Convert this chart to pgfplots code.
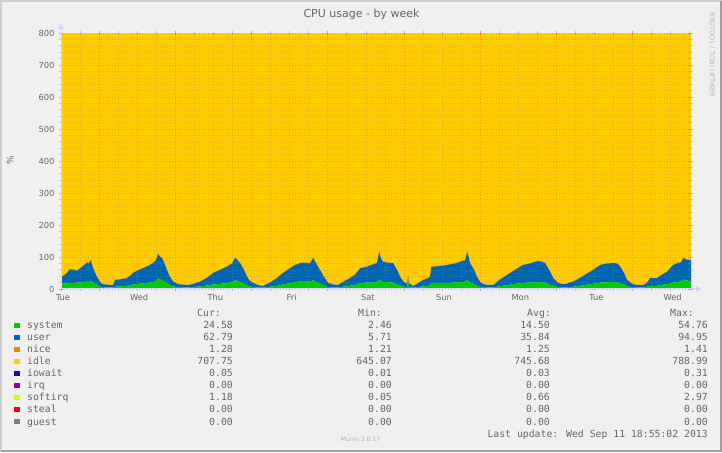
\documentclass[border=0pt]{standalone}
\usepackage{pgfplots}
\pgfplotsset{compat=1.18}
\usepackage{pgfplotstable}
\usepackage{fontspec}
\setmainfont{DejaVu Sans}
\newfontfamily\monofont{DejaVu Sans Mono}
\usetikzlibrary{arrows.meta}
\definecolor{bgc}{HTML}{F0F0F0}
\definecolor{shadea}{HTML}{CFCFCF}
\definecolor{shadeb}{HTML}{9E9E9E}
\definecolor{fontc}{HTML}{666666}
\definecolor{axisc}{HTML}{CFD6F8}
\definecolor{gridc}{HTML}{8F8F8F}
\definecolor{mgridc}{HTML}{E92222}
\definecolor{csystem}{HTML}{00CC00}
\definecolor{cuser}{HTML}{0066B3}
\definecolor{cnice}{HTML}{FF8000}
\definecolor{cidle}{HTML}{FFCC00}
\definecolor{ciowait}{HTML}{330099}
\definecolor{cirq}{HTML}{990099}
\definecolor{csoftirq}{HTML}{CCFF00}
\definecolor{csteal}{HTML}{FF0000}
\definecolor{cguest}{HTML}{808080}

% h = hours since Tuesday 12:00
\pgfplotstableread{
h sys user nice idle soft
0 18 20 1.3 759.5 0.7
0.9 17 25 1.3 755.5 0.7
1.9 18 32 1.3 747.5 0.7
2.8 19 43 1.3 735.5 0.7
4.1 19 41 1.3 737.5 0.7
5.0 20 37 1.3 740.5 0.7
6.6 21 48 1.3 728.5 0.7
8.2 23 59 1.3 715.5 0.7
8.8 22 58 1.3 717.5 0.7
9.4 25 65 1.3 707.5 0.7
10.1 20 45 1.3 732.5 0.7
11.3 13 25 1.3 759.5 0.7
12.3 8 14 1.3 775.5 0.7
12.9 6 10 1.3 781.5 0.7
14.5 5 8 1.3 784.5 0.7
16.4 5 7 1.3 785.5 0.7
17.0 7 21 1.3 769.5 0.7
18.6 8 22 1.3 767.5 0.7
20.8 10 24 1.3 763.5 0.7
22.7 14 36 1.3 747.5 0.7
24.2 16 42 1.3 739.5 0.7
25.8 18 47 1.3 732.5 0.7
27.4 19 53 1.3 725.5 0.7
29.0 22 59 1.3 716.5 0.7
29.9 24 66 1.3 707.5 0.7
30.6 34 76 1.3 687.5 0.7
31.2 30 70 1.3 697.5 0.7
31.8 27 70 1.3 700.5 0.7
32.4 24 61 1.3 712.5 0.7
33.4 18 41 1.3 738.5 0.7
34.3 12 26 1.3 759.5 0.7
35.3 8 15 1.3 774.5 0.7
36.9 6 9 1.3 782.5 0.7
39.7 5 7 1.3 785.5 0.7
41.6 6 9 1.3 782.5 0.7
43.8 8 15 1.3 774.5 0.7
46.0 11 24 1.3 762.5 0.7
47.9 14 36 1.3 747.5 0.7
50.1 16 44 1.3 737.5 0.7
52.3 18 52 1.3 727.5 0.7
53.9 22 58 1.3 717.5 0.7
54.8 28 69 1.3 700.5 0.7
55.4 26 66 1.3 705.5 0.7
56.4 22 59 1.3 716.5 0.7
57.6 16 44 1.3 737.5 0.7
58.6 11 27 1.3 759.5 0.7
59.5 8 17 1.3 772.5 0.7
60.5 6 13 1.3 778.5 0.7
62.1 5 7 1.3 785.5 0.7
63.6 4 5 1.3 788.5 0.7
65.8 7 13 1.3 777.5 0.7
68.0 10 24 1.3 763.5 0.7
69.9 14 36 1.3 747.5 0.7
72.1 18 47 1.3 732.5 0.7
73.7 21 54 1.3 722.5 0.7
75.3 24 57 1.3 716.5 0.7
76.8 25 57 1.3 715.5 0.7
78.4 23 57 1.3 717.5 0.7
79.4 28 69 1.3 700.5 0.7
80.3 22 58 1.3 717.5 0.7
81.6 17 42 1.3 738.5 0.7
82.8 11 27 1.3 759.5 0.7
84.1 6 13 1.3 778.5 0.7
85.7 5 9 1.3 783.5 0.7
87.2 5 7 1.3 785.5 0.7
88.8 7 15 1.3 775.5 0.7
91.0 10 24 1.3 763.5 0.7
92.6 13 32 1.3 752.5 0.7
94.2 18 47 1.3 732.5 0.7
96.4 20 50 1.3 727.5 0.7
98.0 20 56 1.3 721.5 0.7
99.5 21 60 1.3 716.5 0.7
100.2 30 87 1.3 680.5 0.7
100.8 25 70 1.3 702.5 0.7
101.4 22 63 1.3 712.5 0.7
103.0 21 61 1.3 715.5 0.7
104.6 20 61 1.3 716.5 0.7
105.8 15 45 1.3 737.5 0.7
106.8 11 27 1.3 759.5 0.7
107.7 8 17 1.3 772.5 0.7
108.4 6 13 1.3 778.5 0.7
109.0 6 12 1.3 779.5 0.7
109.3 38 2 1.3 757.5 0.7
109.6 6 12 1.3 779.5 0.7
110.9 4 5 1.3 788.5 0.7
112.5 6 12 1.3 779.5 0.7
114.0 8 20 1.3 769.5 0.7
115.6 10 24 1.3 763.5 0.7
116.2 11 27 1.3 759.5 0.7
116.6 18 51 1.3 728.5 0.7
119.4 19 53 1.3 725.5 0.7
121.6 19 56 1.3 722.5 0.7
124.1 20 60 1.3 717.5 0.7
125.7 21 64 1.3 712.5 0.7
127.3 23 67 1.3 707.5 0.7
127.9 30 87 1.3 680.5 0.7
128.5 24 71 1.3 702.5 0.7
128.8 21 60 1.3 716.5 0.7
130.1 15 45 1.3 737.5 0.7
131.0 11 27 1.3 759.5 0.7
132.0 7 15 1.3 775.5 0.7
132.9 6 10 1.3 781.5 0.7
134.5 5 7 1.3 785.5 0.7
136.1 5 7 1.3 785.5 0.7
138.3 9 21 1.3 767.5 0.7
140.5 12 32 1.3 753.5 0.7
143.0 16 44 1.3 737.5 0.7
145.5 19 56 1.3 722.5 0.7
147.7 20 60 1.3 717.5 0.7
149.3 21 64 1.3 712.5 0.7
150.3 22 65 1.3 710.5 0.7
151.5 21 64 1.3 712.5 0.7
152.5 20 61 1.3 716.5 0.7
153.7 15 45 1.3 737.5 0.7
155.0 10 24 1.3 763.5 0.7
156.2 7 15 1.3 775.5 0.7
157.2 6 10 1.3 781.5 0.7
158.8 5 10 1.3 782.5 0.7
161.3 7 16 1.3 774.5 0.7
163.5 10 25 1.3 762.5 0.7
166.6 15 39 1.3 743.5 0.7
168.8 18 50 1.3 729.5 0.7
169.8 20 55 1.3 722.5 0.7
172.0 21 59 1.3 717.5 0.7
173.9 22 59 1.3 716.5 0.7
175.1 21 59 1.3 717.5 0.7
176.1 18 52 1.3 727.5 0.7
177.3 14 36 1.3 747.5 0.7
178.3 8 20 1.3 769.5 0.7
179.9 6 10 1.3 781.5 0.7
181.5 5 7 1.3 785.5 0.7
183.3 5 7 1.3 785.5 0.7
184.6 7 13 1.3 777.5 0.7
185.5 10 24 1.3 763.5 0.7
187.7 10 24 1.3 763.5 0.7
189.3 13 32 1.3 752.5 0.7
190.9 15 39 1.3 743.5 0.7
192.8 20 55 1.3 722.5 0.7
194.4 22 60 1.3 715.5 0.7
195.3 24 59 1.3 714.5 0.7
195.9 30 67 1.3 700.5 0.7
196.9 27 65 1.3 705.5 0.7
198.1 25 65 1.3 707.5 0.7
198.4 25 65 1.3 707.5 0.7
}\cpudata

\newcommand{\lrow}[7]{%
  \fill[#2] (14,#1+0.5) rectangle (19.5,#1+5.5);
  \node[anchor=base west] at (27,#1) {#3};
  \node[anchor=base east] at (233,#1) {#4};
  \node[anchor=base east] at (392,#1) {#5};
  \node[anchor=base east] at (550,#1) {#6};
  \node[anchor=base east] at (708,#1) {#7};
}

\begin{document}
\begin{tikzpicture}[x=1pt,y=1pt]
\fill[bgc] (0,0) rectangle (722,452);
\path[use as bounding box] (0,0) rectangle (722,452);
\draw[shadea, line width=2pt] (1,0) -- (1,451) -- (722,451);
\draw[shadeb, line width=2pt] (1,1) -- (721,1) -- (721,451);

\node[font=\fontsize{11}{13}\selectfont, text=fontc, anchor=base, inner sep=0] at (361.5,434) {CPU usage - by week};
\node[font=\fontsize{9}{11}\selectfont, text=fontc, rotate=90, inner sep=0] at (10,292) {\%};
\node[font=\fontsize{6.6}{8}\selectfont, text=black!28, rotate=-90, inner sep=0] at (712,397) {RRDTOOL / TOBI OETIKER};

\begin{axis}[
  at={(61pt,163pt)}, anchor=south west,
  scale only axis, width=630pt, height=256pt,
  xmin=0, xmax=198.4, ymin=0, ymax=800,
  axis line style={draw=none},
  axis on top,
  stack plots=y,
  ytick={0,100,...,800},
  minor y tick num=4,
  xtick={12,36,60,84,108,132,156,180},
  xticklabels={},
  minor xtick={0,6,18,24,30,42,48,54,66,72,78,90,96,102,114,120,126,138,144,150,162,168,174,186,192,198},
  extra x ticks={0,24,48,72,96,120,144,168,192},
  extra x tick labels={Tue,Wed,Thu,Fri,Sat,Sun,Mon,Tue,Wed},
  extra x tick style={grid=none, major tick length=0pt},
  grid=both,
  major grid style={draw=mgridc, draw opacity=0.3, dash pattern=on 1pt off 2pt, line width=0.5pt},
  minor grid style={draw=gridc, draw opacity=0.35, dash pattern=on 1pt off 2pt, line width=0.5pt},
  tick align=center,
  major tick length=4pt, minor tick length=4pt,
  major tick style={draw=mgridc, draw opacity=0.4, line width=0.6pt},
  minor tick style={draw=gridc, draw opacity=0.4, line width=0.6pt},
  /pgf/number format/assume math mode=true,
  ticklabel style={font=\fontsize{8.3}{10}\selectfont, text=fontc},
  xticklabel style={yshift=-1.5pt, xshift=2pt},
  yticklabel style={xshift=-1pt},
  clip=true,
]
\addplot[fill=csystem, draw=none] table[x=h, y=sys] {\cpudata} \closedcycle;
\addplot[fill=cuser, draw=none] table[x=h, y=user] {\cpudata} \closedcycle;
\addplot[fill=cnice, draw=none] table[x=h, y=nice] {\cpudata} \closedcycle;
\addplot[fill=cidle, draw=none] table[x=h, y=idle] {\cpudata} \closedcycle;
\addplot[fill=csoftirq, draw=none] table[x=h, y=soft] {\cpudata} \closedcycle;
\end{axis}

\draw[axisc, line width=1pt, -{Triangle[length=5pt, width=6pt]}] (61,163) -- (61,428);
\draw[axisc, line width=1pt, -{Triangle[length=5pt, width=6pt]}] (61,163) -- (701,163);

\begin{scope}[every node/.style={inner sep=0, text=fontc, font=\monofont\fontsize{9.8}{11}\selectfont}]
\node[anchor=base west] at (197,135) {Cur:};
\node[anchor=base west] at (358,135) {Min:};
\node[anchor=base west] at (527,135) {Avg:};
\node[anchor=base west] at (670,135) {Max:};
\lrow{123}{csystem}{system}{24.58}{2.46}{14.50}{54.76}
\lrow{111}{cuser}{user}{62.79}{5.71}{35.84}{94.95}
\lrow{99}{cnice}{nice}{1.28}{1.21}{1.25}{1.41}
\lrow{87}{cidle}{idle}{707.75}{645.07}{745.68}{788.99}
\lrow{75}{ciowait}{iowait}{0.05}{0.01}{0.03}{0.31}
\lrow{63}{cirq}{irq}{0.00}{0.00}{0.00}{0.00}
\lrow{51}{csoftirq}{softirq}{1.18}{0.05}{0.66}{2.97}
\lrow{39}{csteal}{steal}{0.00}{0.00}{0.00}{0.00}
\lrow{27}{cguest}{guest}{0.00}{0.00}{0.00}{0.00}
\node[anchor=base east] at (708,15) {Last update: Wed Sep 11 18:55:02 2013};
\end{scope}
\node[font=\fontsize{6}{7}\selectfont, text=black!30, anchor=base, inner sep=0] at (360.5,10) {Munin 2.0.17};
\end{tikzpicture}
\end{document}
